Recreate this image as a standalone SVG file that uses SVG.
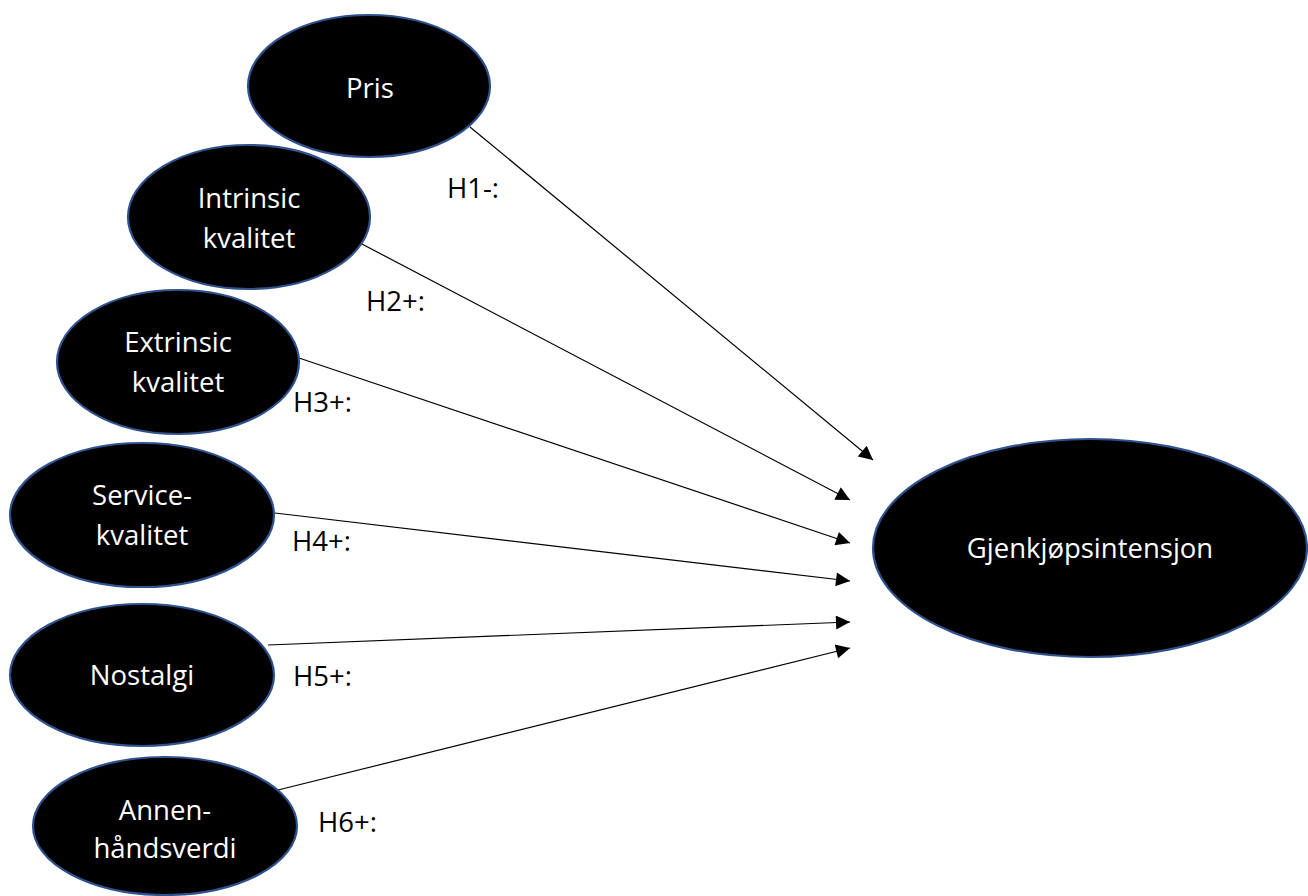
<svg xmlns="http://www.w3.org/2000/svg" width="1308" height="896" viewBox="0 0 1308 896">
<defs>
<style>
.node ellipse{fill:#000;stroke:#2F528F;stroke-width:2.2}
.node text{fill:#fff;font-family:"Open Sans","Liberation Sans",sans-serif;font-size:27.5px;text-anchor:middle}
.lbl{fill:#000;font-family:"Open Sans","Liberation Sans",sans-serif;font-size:27.5px}
#connectors line{stroke:#000;stroke-width:1.2;marker-end:url(#arr)}
</style>
<marker id="arr" viewBox="0 0 10 10" refX="10" refY="5" markerWidth="18" markerHeight="14" markerUnits="userSpaceOnUse" orient="auto">
<path d="M0,0 L10,5 L0,10 z" fill="#000"/>
</marker>
</defs>
<rect width="1308" height="896" fill="#fff"/>
<g id="connectors">
<line x1="470" y1="127" x2="873" y2="460"/>
<line x1="360" y1="243" x2="850" y2="500"/>
<line x1="299" y1="358" x2="850" y2="543"/>
<line x1="275" y1="513" x2="850" y2="581"/>
<line x1="268" y1="645" x2="850" y2="622"/>
<line x1="278" y1="790" x2="850" y2="648"/>
</g>
<g id="n-pris" class="node"><ellipse cx="369" cy="86" rx="121" ry="71"/><text x="370" y="98">Pris</text></g>
<g id="n-intrinsic" class="node"><ellipse cx="249" cy="217" rx="121" ry="72"/><text x="249" y="208">Intrinsic</text><text x="249" y="248">kvalitet</text></g>
<g id="n-extrinsic" class="node"><ellipse cx="178" cy="362" rx="121" ry="72"/><text x="178" y="352">Extrinsic</text><text x="178" y="392">kvalitet</text></g>
<g id="n-service" class="node"><ellipse cx="142" cy="515" rx="132" ry="72"/><text x="142" y="505">Service-</text><text x="142" y="545">kvalitet</text></g>
<g id="n-nostalgi" class="node"><ellipse cx="142" cy="675" rx="132" ry="71"/><text x="142" y="685">Nostalgi</text></g>
<g id="n-annen" class="node"><ellipse cx="165" cy="826" rx="132" ry="69"/><text x="165" y="820">Annen-</text><text x="165" y="858">håndsverdi</text></g>
<g id="n-gjenkjop" class="node"><ellipse cx="1090" cy="548" rx="217" ry="109"/><text x="1090" y="558">Gjenkjøpsintensjon</text></g>
<g id="labels">
<text class="lbl" x="447" y="198">H1-:</text>
<text class="lbl" x="366" y="311">H2+:</text>
<text class="lbl" x="293" y="412">H3+:</text>
<text class="lbl" x="292" y="551">H4+:</text>
<text class="lbl" x="293" y="686">H5+:</text>
<text class="lbl" x="318" y="832">H6+:</text>
</g>
</svg>
